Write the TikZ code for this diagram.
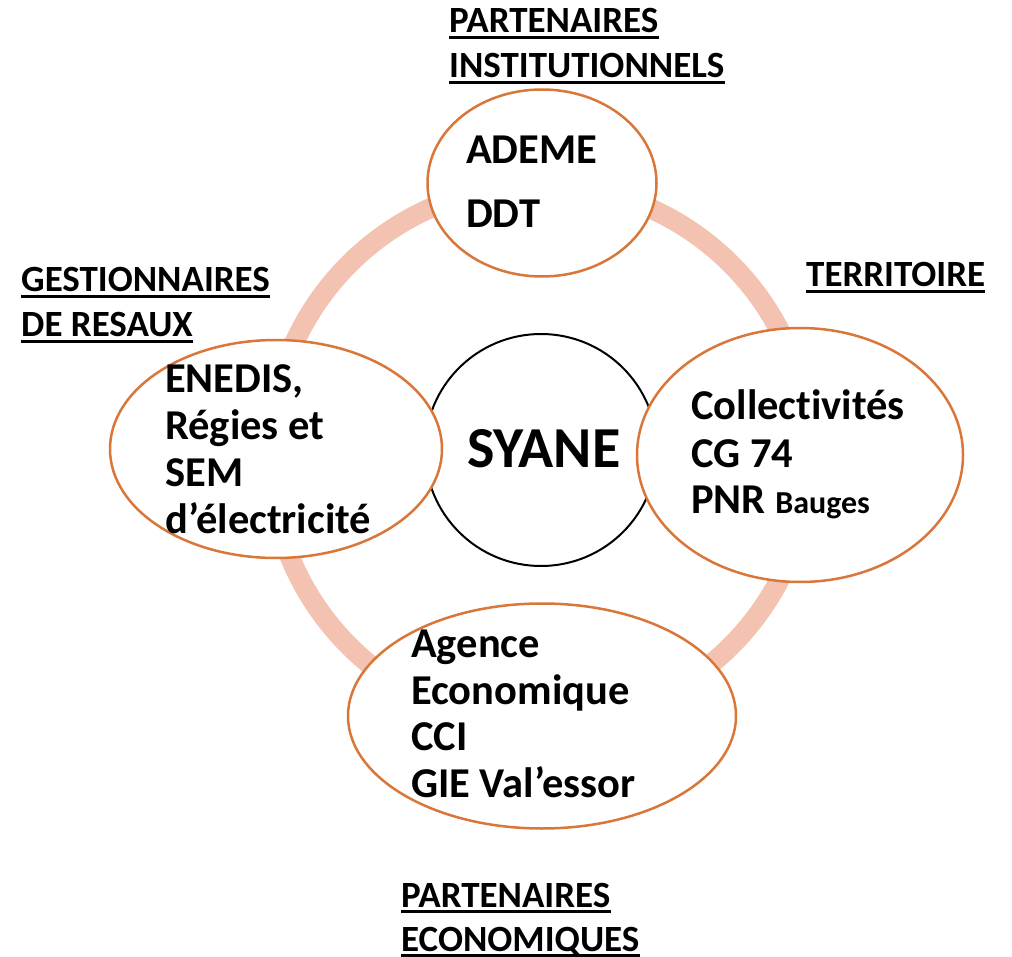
\documentclass[tikz,border=0pt]{standalone}
\usepackage{fontspec}
\setmainfont[Ligatures=NoCommon]{Carlito}
\usetikzlibrary{shapes.geometric}
\definecolor{ring}{HTML}{F4C2B0}
\definecolor{edge}{HTML}{D9773A}
\tikzset{
  bubble/.style={ellipse, draw=edge, line width=2.5pt, fill=white, inner sep=0pt},
  hdr/.style={anchor=base west, inner sep=0pt, font=\bfseries\fontsize{37}{40}\selectfont},
  txt/.style={anchor=base west, inner sep=0pt, font=\bfseries\fontsize{42.5}{46}\selectfont},
}
\newcommand{\ulin}[1]{\draw[line width=2.4pt] ([yshift=-4.5pt]#1.base west) -- ([yshift=-4.5pt]#1.base east);}
\begin{document}
\begin{tikzpicture}[x=1pt,y=-1pt]
\useasboundingbox (0,0) rectangle (1012,957);
\fill[white] (0,0) rectangle (1012,957);
% ring
\coordinate (c) at (540,455);
\draw[ring, line width=20pt] (c) circle[radius=270];
% centre circle
\node[circle, draw=black, line width=2pt, fill=white, minimum size=232pt, inner sep=0pt] (syane) at (541,450) {};
% bubbles
\node[bubble, minimum width=229pt, minimum height=187pt] (top) at (542,183) {};
\node[bubble, minimum width=332pt, minimum height=218pt] (left) at (276,449) {};
\node[bubble, minimum width=326pt, minimum height=254pt] (right) at (800,455) {};
\node[bubble, minimum width=388pt, minimum height=225pt] (bottom) at (542,716) {};
% centre text
\node[anchor=base west, inner sep=0pt, font=\bfseries\fontsize{58}{62}\selectfont] (syanet) at (467,467) {SYANE};
% headers
\node[hdr] (h1a) at (449,33) {PARTENAIRES};
\node[hdr] (h1b) at (449,78) {INSTITUTIONNELS};
\node[hdr] (h2) at (806,287) {TERRITOIRE};
\node[hdr] (h3a) at (21,292) {GESTIONNAIRES};
\node[hdr] (h3b) at (21,337) {DE RESAUX};
\node[hdr] (h4a) at (401,907) {PARTENAIRES};
\node[hdr] (h4b) at (401,951) {ECONOMIQUES};
\ulin{h1a}\ulin{h1b}\ulin{h2}\ulin{h3a}\ulin{h3b}\ulin{h4a}\ulin{h4b}
% top bubble
\node[txt] (t1) at (466,164) {ADEME};
\node[txt] (t2) at (466,228) {DDT};
% left bubble
\node[txt] (l1) at (165,392) {ENEDIS,};
\node[txt] (l2) at (165,439) {Régies et};
\node[txt] (l3) at (165,486) {SEM};
\node[txt] (l4) at (165,533) {d’électricité};
% right bubble
\node[txt] (r1) at (691,420) {Collectivités};
\node[txt] (r2) at (691,467) {CG 74};
\node[txt] (r3) at (691,513) {PNR \fontsize{32}{34}\selectfont Bauges};
% bottom bubble
\node[txt] (b1) at (411,657) {Agence};
\node[txt] (b2) at (411,704) {Economique};
\node[txt] (b3) at (411,750) {CCI};
\node[txt] (b4) at (411,797) {GIE Val’essor};
\end{tikzpicture}
\end{document}
